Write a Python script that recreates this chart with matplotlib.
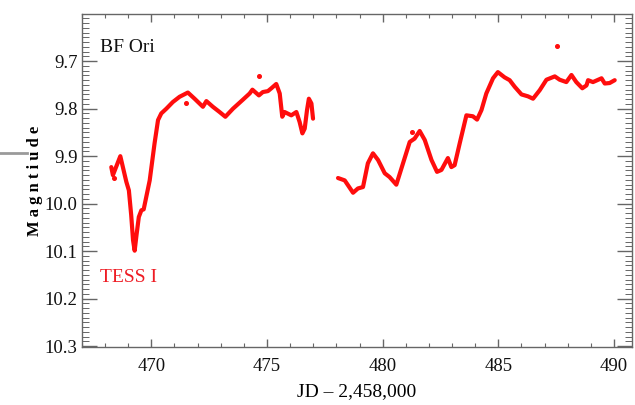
import matplotlib
matplotlib.use("Agg")
import matplotlib.pyplot as plt
from matplotlib.ticker import MultipleLocator
from matplotlib.lines import Line2D

plt.rcParams['font.family'] = ['Liberation Serif', 'DejaVu Serif']

# Segment 1 (TESS sector, first orbit)
jd1 = [468.27, 468.34, 468.66, 468.92, 469.03, 469.13, 469.21, 469.28, 469.36,
       469.46, 469.57, 469.67, 469.93, 470.14, 470.29, 470.43, 470.65, 470.93,
       471.22, 471.58, 471.87, 472.23, 472.38, 472.66, 472.95, 473.20, 473.53,
       473.96, 474.25, 474.37, 474.65, 474.82, 475.04, 475.19, 475.40, 475.55,
       475.66, 475.76, 476.05, 476.27, 476.41, 476.53, 476.63, 476.73, 476.81,
       476.92, 476.99]
mag1 = [9.923, 9.940, 9.900, 9.954, 9.972, 10.024, 10.077, 10.099, 10.066,
        10.028, 10.014, 10.012, 9.951, 9.873, 9.824, 9.810, 9.800, 9.786,
        9.775, 9.766, 9.779, 9.796, 9.784, 9.796, 9.807, 9.817, 9.800,
        9.781, 9.768, 9.760, 9.772, 9.765, 9.763, 9.757, 9.748, 9.768,
        9.817, 9.807, 9.814, 9.807, 9.828, 9.852, 9.842, 9.803, 9.779,
        9.789, 9.821]

# Segment 2 (second orbit)
jd2 = [478.07, 478.36, 478.72, 478.93, 479.15, 479.36, 479.58, 479.80, 480.09,
       480.30, 480.59, 480.88, 481.17, 481.38, 481.60, 481.82, 482.11, 482.35,
       482.54, 482.82, 482.97, 483.11, 483.33, 483.62, 483.90, 484.08, 484.27,
       484.48, 484.77, 484.98, 485.27, 485.49, 485.71, 486.00, 486.28, 486.50,
       486.79, 487.08, 487.44, 487.65, 487.94, 488.16, 488.37, 488.63, 488.81,
       488.88, 489.09, 489.46, 489.60, 489.81, 490.03]
mag2 = [9.946, 9.951, 9.977, 9.968, 9.965, 9.915, 9.894, 9.908, 9.936,
        9.944, 9.960, 9.915, 9.870, 9.863, 9.847, 9.866, 9.908, 9.933,
        9.929, 9.904, 9.923, 9.919, 9.873, 9.814, 9.816, 9.823, 9.803,
        9.768, 9.736, 9.723, 9.734, 9.740, 9.754, 9.770, 9.774, 9.779,
        9.761, 9.739, 9.732, 9.739, 9.744, 9.729, 9.744, 9.757, 9.751,
        9.740, 9.744, 9.736, 9.747, 9.746, 9.740]

# Isolated outlying points
jd_out = [468.37, 471.51, 474.64, 481.28, 487.54]
mag_out = [9.947, 9.789, 9.731, 9.850, 9.668]

xticks = [470, 475, 480, 485, 490]
yticks = [9.7, 9.8, 9.9, 10.0, 10.1, 10.2, 10.3]

red = '#ff0d0d'

fig = plt.figure(figsize=(6.35, 4.05), dpi=100)
ax = fig.add_axes([0.129, 0.143, 0.866, 0.822])

for x, y in ((jd1, mag1), (jd2, mag2)):
    ax.plot(x, y, color=red, lw=3.0, solid_capstyle='round',
            solid_joinstyle='round')
ax.plot(jd_out, mag_out, ls='none', marker='o', ms=2.6, color=red)

ax.set_xlim(467.0, 490.77)
ax.set_ylim(10.302, 9.601)
ax.set_xticks(xticks)
ax.set_yticks(yticks)
ax.set_yticklabels([f"{v:.1f}" for v in yticks])
ax.xaxis.set_minor_locator(MultipleLocator(1))
ax.yaxis.set_minor_locator(MultipleLocator(0.01))

spine_col = '#666666'
for s in ax.spines.values():
    s.set_color(spine_col)
    s.set_linewidth(1.0)
ax.tick_params(axis='both', which='both', direction='in', top=True, right=True,
               color=spine_col, labelsize=13.5, labelcolor='#111111')
ax.tick_params(axis='x', which='major', length=6, width=1, pad=8)
ax.tick_params(axis='x', which='minor', length=3, width=0.8)
ax.tick_params(axis='y', which='major', length=11, width=1, pad=3)
ax.tick_params(axis='y', which='minor', length=5, width=0.7)

ax.set_xlabel("JD \u2013 2,458,000", fontsize=14, labelpad=6)
ax.set_ylabel("M a g n t i u d e", fontsize=12, fontweight='bold')
ax.yaxis.set_label_coords(-0.071, 0.5)

ax.text(0.032, 0.885, "BF Ori", transform=ax.transAxes, fontsize=14,
        color='#111111')
ax.text(0.032, 0.195, "TESS I", transform=ax.transAxes, fontsize=14,
        color='#ee1c24')

fig.add_artist(Line2D([0.0, 0.043], [0.622, 0.622], color='#9a9a9a', lw=2,
                      transform=fig.transFigure))

fig.savefig("out.png", dpi=100)
